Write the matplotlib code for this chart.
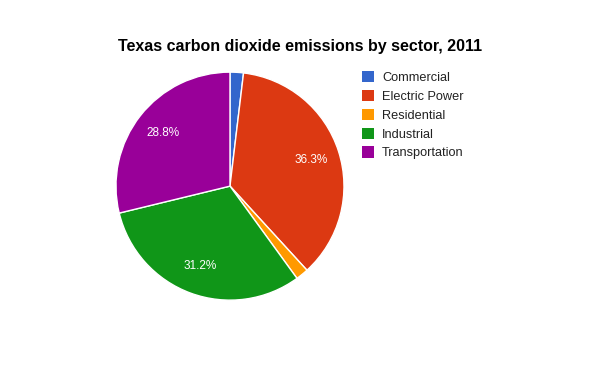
import matplotlib.pyplot as plt
from matplotlib.patches import Patch

plt.rcParams['font.family'] = ['Liberation Sans', 'DejaVu Sans']

sectors = ['Commercial', 'Electric Power', 'Residential', 'Industrial', 'Transportation']
shares = [1.9, 36.3, 1.8, 31.2, 28.8]
colors = ['#3366cc', '#dc3912', '#ff9900', '#109618', '#990099']


def pct_label(p):
    return '%.1f%%' % p if p >= 5 else ''


fig = plt.figure(figsize=(6, 3.71), dpi=100)
ax = fig.add_axes([0.1933, 0.191, 0.38, 0.6146])
wedges, texts, autotexts = ax.pie(
    shares, colors=colors, startangle=90, counterclock=False,
    autopct=pct_label, pctdistance=0.75,
    wedgeprops={'edgecolor': 'white', 'linewidth': 1},
    textprops={'color': 'white', 'fontsize': 8.5})
ax.set_xlim(-1, 1)
ax.set_ylim(-1, 1)
ax.set_aspect('equal')

fig.text(0.5, 0.876, 'Texas carbon dioxide emissions by sector, 2011',
         ha='center', va='center', fontsize=11.5, fontweight='bold', color='black')

handles = [Patch(facecolor=c, edgecolor='none') for c in colors]
fig.legend(handles, sectors, loc='upper left', bbox_to_anchor=(0.603, 0.809),
           frameon=False, fontsize=9.2, handlelength=0.98, handleheight=0.98,
           handletextpad=0.6, labelspacing=0.46, borderaxespad=0, borderpad=0,
           labelcolor='#222222')

fig.savefig('out.png', dpi=100)
